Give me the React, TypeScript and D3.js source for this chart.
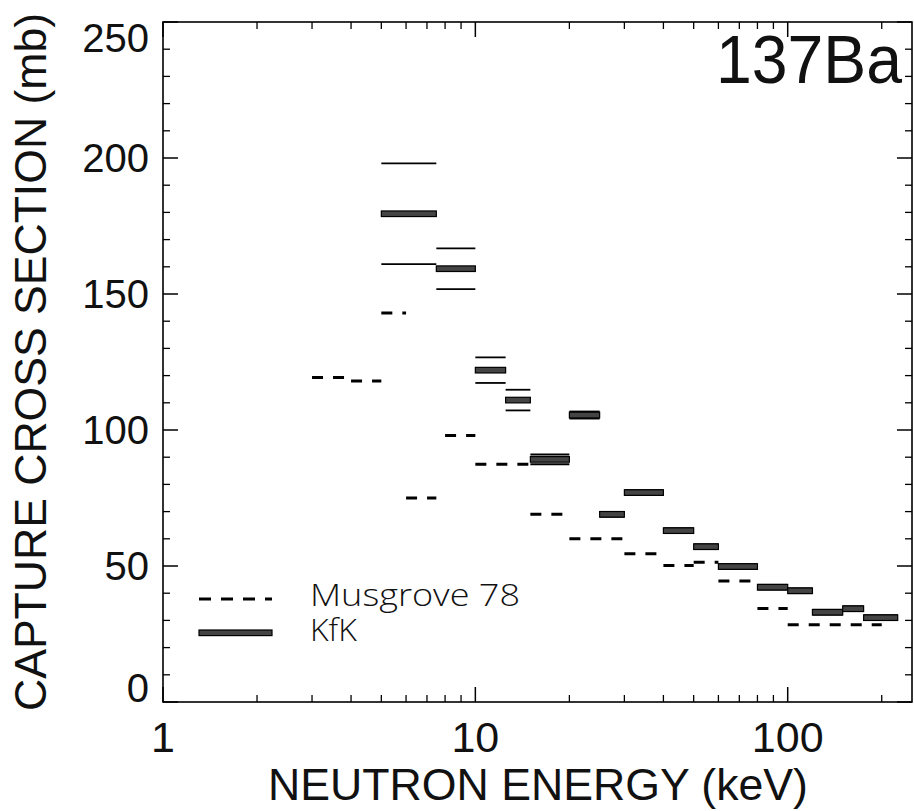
import React, { useMemo } from 'react';
import * as d3 from 'd3';

// Musgrove 78 bins: [lo, hi] keV and cross section (mb)
const musLo = [3, 4, 5, 6, 8, 10, 15, 20, 30, 40, 50, 60, 80, 100];
const musHi = [4, 5, 6, 7.5, 10, 15, 20, 30, 40, 50, 60, 80, 100, 200];
const musVal = [119.3, 118, 143, 75, 98, 87.4, 69, 60, 54.5, 50.2, 51.4, 44.5, 34.4, 28.4];

// KfK bins with uncertainty
const kfkLo = [5, 7.5, 10, 12.5, 15, 20, 25, 30, 40, 50, 60, 80, 100, 120, 150, 175];
const kfkHi = [7.5, 10, 12.5, 15, 20, 25, 30, 40, 50, 60, 80, 100, 120, 150, 175, 225];
const kfkVal = [179.5, 159.3, 122, 111, 89.2, 105.5, 69, 77, 63, 57.1, 49.8, 42.2, 40.9, 33, 34.3, 31];
const kfkErr = [18.5, 7.5, 4.7, 3.8, 1.8, 1.3, 0.9, 0.9, 0.9, 0.9, 0.9, 0.9, 0.9, 0.9, 0.9, 0.9];

const yTicks = [0, 50, 100, 150, 200, 250];
const xTickLabels = [1, 10, 100];

const W = 914, H = 811;
const L = 163, R = 912, T = 22, B = 702;
const FONT = "'Liberation Sans', Arial, Helvetica, sans-serif";
const THIN = "'Open Sans', 'Liberation Sans', sans-serif";

export default function App() {
  const x = useMemo(() => d3.scaleLog().domain([1, 250]).range([L, R]), []);
  const y = useMemo(() => d3.scaleLinear().domain([0, 250]).range([B, T]), []);

  // log minor ticks 2..9 per decade
  const xMinor: number[] = [];
  [1, 10, 100].forEach(dec => {
    for (let k = 2; k <= 9; k++) if (dec * k <= 250) xMinor.push(dec * k);
  });
  const yMinor = d3.range(0, 251, 10).filter(v => v % 50 !== 0);

  return (
    <svg width={W} height={H} style={{ display: 'block', position: 'absolute', left: 0, top: 0, background: '#fff' }}>
      {/* frame */}
      <rect x={L} y={T} width={R - L} height={B - T} fill="none" stroke="#000" strokeWidth={1.6} />

      {/* x ticks */}
      {xTickLabels.map(v => (
        <g key={'xm' + v}>
          <line x1={x(v)} x2={x(v)} y1={B} y2={B - 15} stroke="#000" strokeWidth={1.5} />
          <line x1={x(v)} x2={x(v)} y1={T} y2={T + 15} stroke="#000" strokeWidth={1.5} />
        </g>
      ))}
      {xMinor.map(v => (
        <g key={'xn' + v}>
          <line x1={x(v)} x2={x(v)} y1={B} y2={B - 7} stroke="#000" strokeWidth={1.3} />
          <line x1={x(v)} x2={x(v)} y1={T} y2={T + 7} stroke="#000" strokeWidth={1.3} />
        </g>
      ))}

      {/* y ticks */}
      {yTicks.map(v => (
        <g key={'ym' + v}>
          <line x1={L} x2={L + 15} y1={y(v)} y2={y(v)} stroke="#000" strokeWidth={1.5} />
          <line x1={R} x2={R - 15} y1={y(v)} y2={y(v)} stroke="#000" strokeWidth={1.5} />
        </g>
      ))}
      {yMinor.map(v => (
        <g key={'yn' + v}>
          <line x1={L} x2={L + 7} y1={y(v)} y2={y(v)} stroke="#000" strokeWidth={1.3} />
          <line x1={R} x2={R - 7} y1={y(v)} y2={y(v)} stroke="#000" strokeWidth={1.3} />
        </g>
      ))}

      {/* y tick labels */}
      {yTicks.map(v => {
        let base = y(v) + 14;
        if (v === 250) base = T + 30;
        if (v === 0) base = B;
        return (
          <text key={'yl' + v} x={149} y={base} textAnchor="end" fontFamily={FONT} fontSize={40} fill="#111">
            {v}
          </text>
        );
      })}

      {/* x tick labels */}
      {xTickLabels.map(v => (
        <text key={'xl' + v} x={x(v)} y={752} textAnchor="middle" fontFamily={FONT} fontSize={43} fill="#111">
          {v}
        </text>
      ))}

      {/* axis titles */}
      <text x={538} y={800} textAnchor="middle" fontFamily={FONT} fontSize={45} fill="#111"
        textLength={540} lengthAdjust="spacingAndGlyphs">NEUTRON ENERGY (keV)</text>
      <text transform="translate(46,362) rotate(-90)" textAnchor="middle" fontFamily={FONT} fontSize={45} fill="#111"
        textLength={698} lengthAdjust="spacingAndGlyphs">CAPTURE CROSS SECTION (mb)</text>

      {/* label */}
      <text x={902} y={83} textAnchor="end" fontFamily={FONT} fontSize={68} fill="#111"
        textLength={186} lengthAdjust="spacingAndGlyphs">137Ba</text>

      {/* Musgrove 78 */}
      {musVal.map((v, i) => (
        <line key={'mu' + i} x1={x(musLo[i])} x2={x(musHi[i])} y1={y(v)} y2={y(v)}
          stroke="#000" strokeWidth={3} strokeDasharray="11,10" />
      ))}

      {/* KfK */}
      {kfkVal.map((v, i) => (
        <g key={'kf' + i}>
          <line x1={x(kfkLo[i])} x2={x(kfkHi[i])} y1={y(v + kfkErr[i])} y2={y(v + kfkErr[i])} stroke="#000" strokeWidth={1.8} />
          <line x1={x(kfkLo[i])} x2={x(kfkHi[i])} y1={y(v - kfkErr[i])} y2={y(v - kfkErr[i])} stroke="#000" strokeWidth={1.8} />
          <rect x={x(kfkLo[i])} y={y(v) - 2.8} width={x(kfkHi[i]) - x(kfkLo[i])} height={5.6}
            fill="#444" stroke="#000" strokeWidth={1.2} />
        </g>
      ))}

      {/* legend */}
      <line x1={199} x2={272} y1={599} y2={599} stroke="#000" strokeWidth={3} strokeDasharray="12,10" />
      <rect x={199} y={630} width={73} height={5.6} fill="#444" stroke="#000" strokeWidth={1.2} />
      <text x={310} y={606} fontFamily={THIN} fontWeight={300} fontSize={32} fill="#111"
        textLength={210} lengthAdjust="spacingAndGlyphs">Musgrove 78</text>
      <text x={310} y={641} fontFamily={THIN} fontWeight={300} fontSize={32} fill="#111">KfK</text>
    </svg>
  );
}
